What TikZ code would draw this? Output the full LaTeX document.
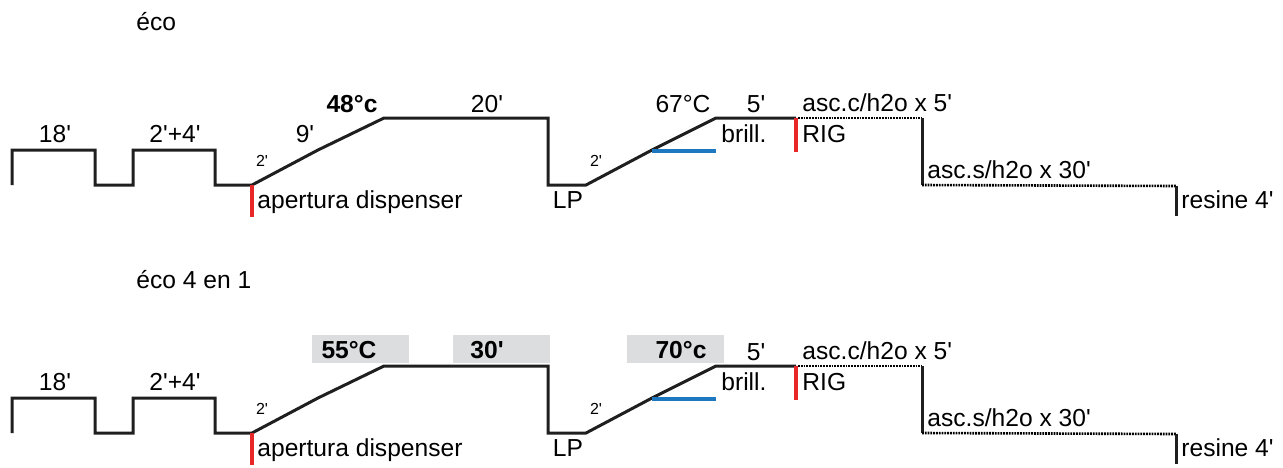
\documentclass[tikz,border=0pt]{standalone}
\usepackage{fontspec}
\setmainfont{Liberation Sans}
\usetikzlibrary{positioning}
\definecolor{rigred}{RGB}{232,40,40}
\definecolor{brillblue}{RGB}{30,120,192}
\definecolor{tempgray}{RGB}{220,221,222}
\newcommand{\mn}{\textquotesingle}
\tikzset{
  lbl/.style={anchor=base,inner sep=0pt,font=\fontsize{12.3}{14}\selectfont},
  lblw/.style={lbl,anchor=base west},
  smalllbl/.style={anchor=base,inner sep=0pt,font=\fontsize{8}{9}\selectfont},
  hotlbl/.style={lbl,font=\fontsize{12.3}{14}\selectfont\bfseries},
  cycleline/.style={line width=1.5pt,black!88,line join=miter},
  rinse/.style={line width=1.3pt,black,dash pattern=on 0.9pt off 0.5pt},
  marker/.style={line width=2.3pt},
  tempbox/.style={fill=tempgray,draw=none,inner sep=0pt,minimum width=48.5pt,minimum height=14pt}
}
\newcommand{\ecocycle}[1]{%
  \draw[cycleline] (12,185) coordinate (#1start) |- (95,150) |- (133,185) |- (215,150) |- (252,185) coordinate (#1disp)
    -- (318,150) -- (384,118) -- (548,118) -- (548,185) coordinate (#1lp) -- (586,185) coordinate (#1ramp)
    -- (652,150) coordinate (#1blue) -- (716,118) coordinate (#1brill) -- (796,118) coordinate (#1rig);
  \coordinate (#1hot) at (922,118);
  \coordinate (#1cold) at (922,185);
  \coordinate (#1res) at (1176,186);
  \draw[rinse] (#1rig) ++(2,0) -- (#1hot);
  \draw[cycleline] (#1hot) -- (#1cold);
  \draw[rinse] (#1cold) -- (#1res);
  \draw[cycleline] (#1res) -- ++(0,30) coordinate (#1resend);
  \draw[marker,rigred] (#1disp) -- ++(0,32);
  \draw[marker,rigred] (#1rig) -- ++(0,34);
  \draw[marker,brillblue] (#1blue) ++(0,1) -- ++(64,0);
  \node[lbl] (#1prelav) at (55,142) {18\mn};
  \node[lbl] (#1lav) at (175,142) {2\mn+4\mn};
  \node[smalllbl] (#1upa) at (262,166) {2\mn};
  \node[smalllbl] (#1upb) at (596,166) {2\mn};
  \node[lblw] (#1aper) at (257,208) {apertura dispenser};
  \node[lbl] (#1lplbl) at (568,208) {LP};
  \node[lbl] (#1fin) at (756,112) {5\mn};
  \node[lblw] (#1brl) at (721,142) {brill.};
  \node[lblw] (#1riglbl) at (802,142) {RIG};
  \node[lblw] (#1ascc) at (802,111) {asc.c/h2o x 5\mn};
  \node[lblw] (#1ascs) at (927,178) {asc.s/h2o x 30\mn};
  \node[lblw] (#1resl) at (1181,208) {resine 4\mn};
}

\begin{document}
\begin{tikzpicture}[x=0.5pt,y=-0.5pt]
  \useasboundingbox (0,0) rectangle (1283,467);
  \node[lblw] (eco) at (136,30) {éco};
  \node[lblw] (eco4) at (136,288) {éco 4 en 1};
  \begin{scope}
    \ecocycle{e}
    \node[lbl] (ewash) at (305,142) {9\mn};
    \node[hotlbl] (etemp) at (352,112) {48°c};
    \node[lbl] (etime) at (487,112) {20\mn};
    \node[lbl] (ebtemp) at (683,112) {67°C};
  \end{scope}
  \begin{scope}[shift={(0,248)}]
    \node[tempbox] (fbox) at (360.5,101) {};
    \node[tempbox] (ftbox) at (501.5,101) {};
    \node[tempbox] (fbbox) at (675.5,101) {};
    \ecocycle{f}
    \node[hotlbl] (ftemp) at (349,110) {55°C};
    \node[hotlbl] (ftime) at (487,110) {30\mn};
    \node[hotlbl] (fbtemp) at (681,110) {70°c};
  \end{scope}
\end{tikzpicture}
\end{document}
